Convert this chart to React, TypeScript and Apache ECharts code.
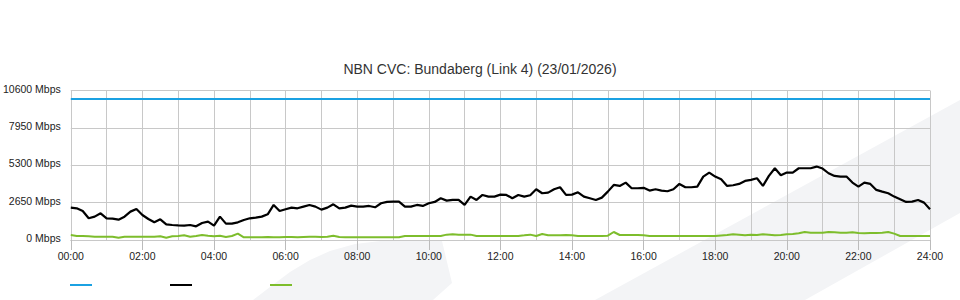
import React, { useEffect, useRef } from "react";
import * as echarts from "echarts";

const TITLE = "NBN CVC: Bundaberg (Link 4) (23/01/2026)";
const STEP_MINUTES = 10;
const SERIES_NAMES = ["Capacity", "Inbound", "Outbound"];
const SERIES_COLORS = ["#1ba1e2", "#000000", "#7dbd2c"];
const CAPACITY = 10000;

const inbound = [
  2295, 2248, 2059, 1538, 1656, 1893, 1538, 1514, 1443, 1656, 2012, 2201, 1775, 1491, 1254, 1467, 1112, 1065, 1040, 1017,
  1065, 970, 1207, 1301, 1017, 1656, 1159, 1159, 1254, 1420, 1538, 1585, 1656, 1822, 2485, 2059, 2177, 2295, 2248, 2366,
  2485, 2366, 2153, 2295, 2532, 2248, 2295, 2437, 2366,
  2366, 2414, 2319, 2603, 2698, 2721, 2721, 2366, 2366, 2485, 2414, 2603, 2698, 2958, 2792, 2840, 2840, 2485, 3076, 2840,
  3195, 3076, 3076, 3218, 3195, 2958, 3195, 3076, 3171, 3597, 3313, 3360, 3597, 3739, 3195, 3218, 3384, 3076, 2958, 2840,
  3005, 3431, 3905, 3834, 4070, 3668, 3668, 3700,
  3502, 3597, 3502, 3455, 3597, 3976, 3739, 3739, 3786, 4496, 4780, 4496, 4307, 3834, 3881, 3976, 4189, 4260, 4378, 3834,
  4544, 5088, 4591, 4780, 4780, 5088, 5088, 5088, 5206, 5064, 4733, 4544, 4496, 4496, 4070, 3786, 4070, 3976, 3550, 3431,
  3313, 3076, 2887, 2697, 2721, 2840, 2650, 2177,
];

const outbound = [
  355, 283, 283, 260, 234, 234, 234, 234, 163, 234, 234, 234, 234, 234, 234, 260, 163, 260, 283, 330,
  234, 283, 355, 306, 260, 306, 213, 283, 450, 190, 190, 190, 190, 213, 190, 190, 213, 213, 190, 213,
  234, 234, 213, 234, 306, 213, 190, 190, 190,
  190, 190, 190, 190, 190, 190, 190, 284, 284, 284, 284, 284, 284, 284, 380, 402, 380, 380, 380, 284,
  284, 284, 284, 284, 284, 284, 284, 330, 380, 284, 426, 330, 330, 330, 355, 330, 284, 284, 284, 284,
  284, 306, 568, 355, 355, 355, 355, 330,
  284, 284, 284, 284, 284, 284, 284, 284, 284, 284, 284, 284, 320, 355, 402, 380, 330, 380, 355, 402,
  380, 330, 355, 402, 426, 473, 568, 521, 521, 521, 568, 545, 521, 521, 545, 497, 473, 497, 497, 521,
  568, 450, 284, 284, 284, 284, 284, 284,
];

const Y_MAX = 10600;
const Y_INTERVAL = 2650;
const FONT = "'Liberation Sans', Arial, Helvetica, sans-serif";

function toPairs(values: number[]) {
  return values.map((v, i) => [(i * STEP_MINUTES) / 60, v]);
}

export default function App() {
  const ref = useRef<HTMLDivElement>(null);
  useEffect(() => {
    if (!ref.current) return;
    const chart = echarts.init(ref.current, undefined, { renderer: "svg" });
    const capacity = inbound.map(() => CAPACITY);
    const legendX = [70, 170, 270];
    chart.setOption({
      animation: false,
      backgroundColor: "#ffffff",
      textStyle: { fontFamily: FONT },
      title: {
        text: TITLE,
        left: "center",
        top: 62,
        padding: 0,
        textStyle: { fontSize: 14, fontWeight: "normal", color: "#333", fontFamily: FONT },
      },
      legend: SERIES_NAMES.map((n, k) => ({
        data: [n],
        left: legendX[k],
        top: 284,
        padding: 0,
        itemWidth: 22,
        itemHeight: 2,
        icon: "rect",
        formatter: () => "",
        selectedMode: false,
        textStyle: { fontSize: 1 },
      })),
      graphic: [
        {
          type: "polygon",
          z: -10,
          silent: true,
          shape: { points: [[595, 300], [960, 100], [960, 213], [805, 300]] },
          style: { fill: "#f3f4f6" },
        },
        {
          type: "polygon",
          z: -10,
          silent: true,
          shape: {
            points: [
              [253, 300], [270, 287], [290, 272], [310, 260], [330, 251], [355, 244], [385, 240.5],
              [415, 240], [442, 241], [452, 283], [433, 300],
            ],
          },
          style: { fill: "#f3f4f6" },
        },
      ],
      grid: { left: 70, right: 30, top: 90.5, bottom: 60, containLabel: false },
      xAxis: {
        type: "value",
        min: 0,
        max: 24,
        interval: 2,
        axisLine: { show: true, lineStyle: { color: "#c8c8c8", width: 1 } },
        axisTick: { show: true, length: 10, lineStyle: { color: "#bbbbbb" } },
        minorTick: { show: false, splitNumber: 2 },
        minorSplitLine: { show: true, lineStyle: { color: "#c8c8c8", width: 1 } },
        splitLine: { show: true, lineStyle: { color: "#c8c8c8", width: 1 } },
        axisLabel: {
          fontSize: 10.5,
          color: "#222",
          margin: 10,
          fontFamily: FONT,
          formatter: (v: number) => String(v).padStart(2, "0") + ":00",
        },
      },
      yAxis: {
        type: "value",
        min: 0,
        max: Y_MAX,
        interval: Y_INTERVAL,
        axisLine: { show: false },
        axisTick: { show: false },
        splitLine: { show: true, lineStyle: { color: "#c8c8c8", width: 1 } },
        axisLabel: {
          fontSize: 10.5,
          color: "#222",
          margin: 10,
          fontFamily: FONT,
          verticalAlign: "bottom",
          lineHeight: 4,
          formatter: (v: number) => String(v) + " Mbps",
        },
      },
      series: [
        {
          name: SERIES_NAMES[0],
          type: "line",
          data: toPairs(capacity),
          symbol: "none",
          color: SERIES_COLORS[0],
          lineStyle: { color: SERIES_COLORS[0], width: 2 },
        },
        {
          name: SERIES_NAMES[1],
          type: "line",
          data: toPairs(inbound),
          symbol: "none",
          color: SERIES_COLORS[1],
          lineStyle: { color: SERIES_COLORS[1], width: 2.2 },
        },
        {
          name: SERIES_NAMES[2],
          type: "line",
          data: toPairs(outbound),
          symbol: "none",
          color: SERIES_COLORS[2],
          lineStyle: { color: SERIES_COLORS[2], width: 2 },
        },
      ],
    });
    return () => chart.dispose();
  }, []);
  return <div ref={ref} style={{ width: 960, height: 300, position: "absolute", left: 0, top: 0 }} />;
}
